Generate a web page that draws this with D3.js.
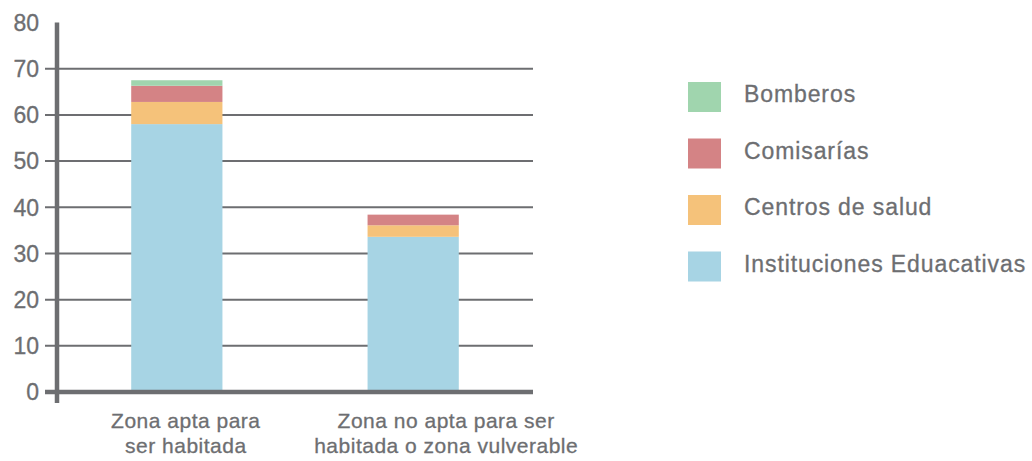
<!DOCTYPE html>
<html lang="es">
<head>
  <meta charset="UTF-8" />
  <title>Equipamientos por zona</title>
  <script src="https://cdn.jsdelivr.net/npm/d3@7/dist/d3.min.js"></script>
  <style>
    body { margin: 0; background: #fff; }
    text { font-family: "Liberation Sans", Arial, Helvetica, sans-serif; fill: #6d6e71; stroke: #6d6e71; stroke-width: 0.3px; }
  </style>
</head>
<body>
<script>
  // data
  var categories = ["Zona apta para ser habitada", "Zona no apta para ser habitada o zona vulverable"];
  var categoryLines = [["Zona apta para", "ser habitada"], ["Zona no apta para ser", "habitada o zona vulverable"]];
  var seriesNames = ["Instituciones Eduacativas", "Centros de salud", "Comisarías", "Bomberos"];
  var educativas = [58, 33.6];
  var salud = [4.8, 2.5];
  var comisarias = [3.5, 2.3];
  var bomberos = [1.2, 0];
  var yTicks = [0, 10, 20, 30, 40, 50, 60, 70, 80];
  var colors = ["#a7d4e4", "#f5c27a", "#d48385", "#a0d5ae"];

  var w = 1032, h = 461;
  var grey = "#6d6e71";

  var rows = categories.map(function(c, i) {
    return {
      cat: c,
      "Instituciones Eduacativas": educativas[i],
      "Centros de salud": salud[i],
      "Comisarías": comisarias[i],
      "Bomberos": bomberos[i]
    };
  });

  var svg = d3.select("body").append("svg")
    .attr("width", w)
    .attr("height", h);

  var x = d3.scaleBand()
    .domain(categories)
    .range([57, 533])
    .paddingInner(0.614)
    .paddingOuter(0.314);

  var y = d3.scaleLinear()
    .domain([0, 80])
    .range([392, 22.5]);

  // gridlines + little ticks
  svg.append("g")
    .selectAll("line")
    .data(yTicks.filter(function(t) { return t > 0 && t < 80; }))
    .enter()
    .append("line")
    .attr("x1", 45)
    .attr("x2", 533)
    .attr("y1", function(d) { return y(d); })
    .attr("y2", function(d) { return y(d); })
    .style("stroke", grey)
    .style("stroke-width", 2);

  // stacked bars
  var stack = d3.stack().keys(seriesNames)(rows);

  svg.append("g")
    .selectAll("g")
    .data(stack)
    .enter()
    .append("g")
    .style("fill", function(d, i) { return colors[i]; })
    .selectAll("rect")
    .data(function(d) { return d; })
    .enter()
    .append("rect")
    .attr("x", function(d) { return x(d.data.cat); })
    .attr("width", x.bandwidth())
    .attr("y", function(d) { return y(d[1]); })
    .attr("height", function(d) { return y(d[0]) - y(d[1]); });

  // axes
  svg.append("line")
    .attr("x1", 57).attr("x2", 57)
    .attr("y1", y(80)).attr("y2", 403)
    .style("stroke", grey)
    .style("stroke-width", 4.5);

  svg.append("line")
    .attr("x1", 45).attr("x2", 533)
    .attr("y1", y(0)).attr("y2", y(0))
    .style("stroke", grey)
    .style("stroke-width", 4.5);

  // y labels
  svg.append("g")
    .selectAll("text")
    .data(yTicks)
    .enter()
    .append("text")
    .attr("x", 39)
    .attr("y", function(d) { return y(d); })
    .attr("dy", "0.36em")
    .attr("text-anchor", "end")
    .style("font-size", "23px")
    .text(function(d) { return d; });

  // x labels (they sit a bit right of their bars in the original)
  var labelShift = [9, 33];
  var xl = svg.append("g")
    .selectAll("text")
    .data(categories)
    .enter()
    .append("text")
    .attr("text-anchor", "middle")
    .style("font-size", "21px")
    .style("letter-spacing", "0.5px")
    .attr("transform", function(d, i) {
      return "translate(" + (x(d) + x.bandwidth() / 2 + labelShift[i]) + ",428)";
    });

  xl.selectAll("tspan")
    .data(function(d, i) { return categoryLines[i]; })
    .enter()
    .append("tspan")
    .attr("x", 0)
    .attr("y", function(d, i) { return i * 25; })
    .text(function(d) { return d; });

  // legend, Bomberos at top
  var legendKeys = seriesNames.slice().reverse();
  var legend = svg.append("g")
    .selectAll("g")
    .data(legendKeys)
    .enter()
    .append("g")
    .attr("transform", function(d, i) { return "translate(688," + (82 + i * 56.5) + ")"; });

  legend.append("rect")
    .attr("width", 33)
    .attr("height", 30)
    .style("fill", function(d) { return colors[seriesNames.indexOf(d)]; });

  legend.append("text")
    .attr("x", 56)
    .attr("y", 15)
    .attr("dy", "0.23em")
    .style("font-size", "23px")
    .style("letter-spacing", "0.9px")
    .text(function(d) { return d; });
</script>
</body>
</html>
